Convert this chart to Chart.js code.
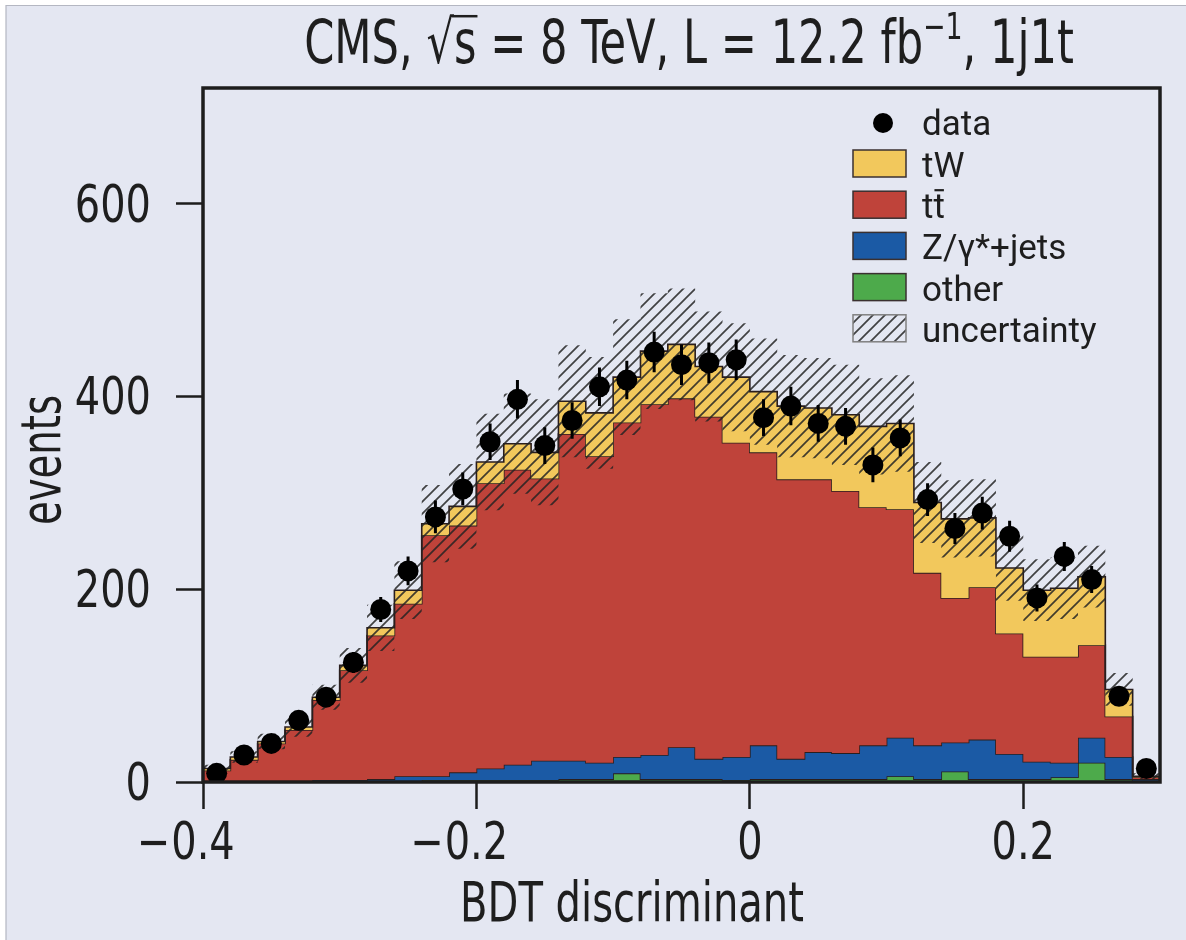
<!DOCTYPE html>
<html>
<head>
<meta charset="utf-8">
<script src="https://cdn.jsdelivr.net/npm/chart.js@4.4.1/dist/chart.umd.min.js"></script>
<style>
  html, body { margin: 0; padding: 0; background: #e4e7f2; }
  #wrap { width: 1186px; height: 940px; }
</style>
</head>
<body>
<div id="wrap"><canvas id="bdt" width="1186" height="940"></canvas></div>
<script>
// BDT discriminant in the 1j1t region: stacked templates, MC uncertainty, data
const binLow = [-0.40, -0.38, -0.36, -0.34, -0.32, -0.30, -0.28, -0.26, -0.24, -0.22,
                -0.20, -0.18, -0.16, -0.14, -0.12, -0.10, -0.08, -0.06, -0.04, -0.02,
                 0.00,  0.02,  0.04,  0.06,  0.08,  0.10,  0.12,  0.14,  0.16,  0.18,
                 0.20,  0.22,  0.24,  0.26,  0.28];
const binHigh = 0.30;

const other = [0, 0, 0, 0, 1, 1, 1, 1, 2, 2, 2, 2, 2, 3, 3, 9, 3, 3, 3, 2,
               3, 3, 3, 3, 3, 6, 3, 11, 3, 3, 3, 5, 20, 3, 1];
const zjets = [0, 0, 0, 1, 1, 1, 2, 5, 4, 8, 12, 16, 20, 19, 17, 17, 25, 33, 21, 24,
               35, 21, 28, 27, 35, 40, 35, 30, 41, 26, 18, 15, 26, 23, 2];
const ttbar = [12, 23, 40, 53, 83, 114, 149, 179, 250, 256, 296, 306, 293, 339, 318, 347, 364, 362, 355, 326,
               304, 290, 283, 272, 247, 237, 179, 150, 158, 125, 109, 110, 96, 42, 2];
const tw = [2, 3, 2, 3, 3, 5, 8, 14, 12, 20, 22, 27, 27, 34, 45, 47, 55, 56, 52, 68,
            63, 76, 74, 79, 84, 89, 73, 82, 72, 68, 69, 71, 71, 28, 1];
const uncertainty = [4, 6, 8, 10, 13, 18, 24, 30, 40, 44, 50, 52, 55, 58, 58, 60, 60, 58, 57, 56,
                     55, 53, 52, 52, 50, 50, 42, 40, 40, 34, 32, 32, 32, 17, 3];
const dataCounts = [9, 28, 40, 64, 88, 124, 179, 219, 275, 304, 353, 397, 349, 375, 410, 417, 446, 433, 435, 438,
                    378, 390, 372, 369, 329, 357, 293, 263, 279, 255, 191, 234, 210, 89, 14];
const dataErrors = [3, 5, 6, 8, 9, 11, 13, 15, 17, 17, 19, 20, 19, 19, 20, 20, 21, 21, 21, 21,
                    19, 20, 19, 19, 18, 19, 17, 16, 17, 16, 14, 15, 14, 9, 4];

const xTicks = [-0.4, -0.2, 0, 0.2];
const yTicks = [0, 200, 400, 600];

const COLORS = {
  bg: '#e4e7f2',
  tw: '#f2c85c',
  ttbar: '#bf433a',
  zjets: '#1b5aa5',
  other: '#4daa4b',
  edge: '#2a1e1e',
  frame: '#1d1d1d',
  text: '#1e1e1e',
  hatch: 'rgba(35,35,35,0.85)'
};
const NARROW = "'Liberation Sans Narrow', 'DejaVu Sans Condensed', 'Roboto', sans-serif";
const REGULAR = "'Roboto', 'Liberation Sans', sans-serif";

// cumulative stack tops, bottom layer first
const layers = [other, zjets, ttbar, tw];
const cumulative = [];
layers.forEach((vals, k) => {
  cumulative.push(vals.map((v, i) => v + (k ? cumulative[k - 1][i] : 0)));
});
const total = cumulative[cumulative.length - 1];

function stepPoints(values, pad) {
  const pts = [];
  if (pad) pts.push({ x: binLow[0], y: 0 });
  values.forEach((v, i) => pts.push({ x: binLow[i], y: v }));
  pts.push({ x: binHigh, y: values[values.length - 1] });
  if (pad) pts.push({ x: binHigh, y: 0 });
  return pts;
}

function hatchPattern(ctx, size, color, width) {
  const c = document.createElement('canvas');
  c.width = size; c.height = size;
  const g = c.getContext('2d');
  g.strokeStyle = color;
  g.lineWidth = width;
  g.beginPath();
  g.moveTo(-1, size + 1); g.lineTo(size + 1, -1);
  g.moveTo(-size / 2 - 1, size / 2 + 1); g.lineTo(size / 2 + 1, -size / 2 - 1);
  g.moveTo(size / 2 - 1, size * 1.5 + 1); g.lineTo(size * 1.5 + 1, size / 2 - 1);
  g.stroke();
  return ctx.createPattern(c, 'repeat');
}

// condensed text: DejaVu condensed squeezed a little further horizontally
function narrowText(c, text, x, y, size, sx, align) {
  c.save();
  c.font = `${size}px ${NARROW}`;
  c.textAlign = align || 'left';
  c.translate(x, y);
  c.scale(sx, 1);
  c.fillText(text, 0, 0);
  c.restore();
}
function narrowWidth(c, text, size, sx) {
  c.save();
  c.font = `${size}px ${NARROW}`;
  const w = c.measureText(text).width * sx;
  c.restore();
  return w;
}

const canvas = document.getElementById('bdt');
const ctx = canvas.getContext('2d');
const hatch = hatchPattern(ctx, 12, COLORS.hatch, 1.7);

function layerDataset(label, k, color) {
  return {
    label: label,
    data: stepPoints(cumulative[k], true),
    stepped: 'before',
    borderColor: COLORS.edge,
    borderWidth: 1.6,
    backgroundColor: color,
    fill: k === 0 ? 'origin' : '-1',
    pointRadius: 0,
    order: 10 - k
  };
}

const centers = binLow.map(lo => lo + 0.01);

const errorBars = {
  id: 'errorBars',
  afterDatasetsDraw(chart) {
    const { ctx: c, scales: { x, y } } = chart;
    c.save();
    c.strokeStyle = '#000';
    c.lineWidth = 3;
    c.beginPath();
    dataCounts.forEach((n, i) => {
      const px = x.getPixelForValue(centers[i]);
      c.moveTo(px, y.getPixelForValue(n - dataErrors[i]));
      c.lineTo(px, y.getPixelForValue(n + dataErrors[i]));
    });
    c.stroke();
    // frame around the plotting area
    const a = chart.chartArea;
    c.strokeStyle = COLORS.frame;
    c.lineWidth = 3.5;
    c.strokeRect(a.left, a.top, a.right - a.left, a.bottom - a.top);
    c.restore();
  }
};

const TICK_SIZE = 51, TICK_SX = 0.87;

const annotations = {
  id: 'annotations',
  afterDraw(chart) {
    const c = chart.ctx;
    const { x: xs, y: ys } = chart.scales;
    c.save();

    // page edge
    c.fillStyle = '#ffffff';
    c.fillRect(0, 0, 1186, 5);
    c.fillRect(0, 0, 6, 940);
    c.strokeStyle = '#b4b7c2';
    c.lineWidth = 1.2;
    c.beginPath();
    c.moveTo(6, 940); c.lineTo(6, 5.5); c.lineTo(1186, 5.5);
    c.stroke();

    c.fillStyle = COLORS.text;
    c.strokeStyle = COLORS.text;
    c.textBaseline = 'alphabetic';

    // tick labels; a leading minus hangs left of the centred number
    xTicks.forEach(v => {
      const px = xs.getPixelForValue(v);
      const num = Math.abs(v) < 1e-9 ? '0' : Math.abs(v).toFixed(1);
      const w = narrowWidth(c, num, TICK_SIZE, TICK_SX);
      narrowText(c, num, px, 859, TICK_SIZE, TICK_SX, 'center');
      if (v < -1e-9) narrowText(c, '\u2212', px - w / 2 - 1, 859, TICK_SIZE, TICK_SX, 'right');
    });
    yTicks.forEach(v => {
      const py = ys.getPixelForValue(v);
      narrowText(c, String(v), 151, py + 18, TICK_SIZE, TICK_SX, 'right');
    });

    // title with radical and superscript
    const tf = 60, tsx = 0.8;
    const parts = [
      { t: 'CMS, ', f: tf, dy: 0 },
      { t: '\u221A', f: tf, dy: 0, root: true },
      { t: 's', f: tf, dy: 0, over: true },
      { t: ' = 8 TeV, L = 12.2 fb', f: tf, dy: 0 },
      { t: '\u22121', f: tf * 0.62, dy: -tf * 0.4 },
      { t: ', 1j1t', f: tf, dy: 0 }
    ];
    let w = 0;
    parts.forEach(p => { p.w = narrowWidth(c, p.t, p.f, tsx); w += p.w; });
    let x0 = 689 - w / 2;
    const base = 63;
    let rootEnd = 0;
    parts.forEach(p => {
      narrowText(c, p.t, x0, base + p.dy, p.f, tsx, 'left');
      if (p.root) rootEnd = x0 + p.w;
      if (p.over) {
        c.lineWidth = 2.5;
        c.beginPath();
        c.moveTo(rootEnd - 2, base - tf * 0.78);
        c.lineTo(x0 + p.w + 1, base - tf * 0.78);
        c.stroke();
      }
      x0 += p.w;
    });

    // axis titles
    narrowText(c, 'BDT discriminant', 632, 921, 55, 0.81, 'center');
    c.save();
    c.translate(60, 460);
    c.rotate(-Math.PI / 2);
    narrowText(c, 'events', 0, 0, 55, 0.78, 'center');
    c.restore();

    // legend
    const lx = 853, bw = 53, bh = 27, tx = 922;
    c.font = `35px ${REGULAR}`;
    c.textAlign = 'left';
    c.beginPath();
    c.arc(883, 123, 10, 0, Math.PI * 2);
    c.fillStyle = '#000';
    c.fill();
    c.fillStyle = COLORS.text;
    c.fillText('data', tx, 135);
    const rows = [
      { label: 'tW', color: COLORS.tw },
      { label: 'tt', color: COLORS.ttbar, bar: true },
      { label: 'Z/\u03B3*+jets', color: COLORS.zjets },
      { label: 'other', color: COLORS.other },
      { label: 'uncertainty', color: hatch, light: true }
    ];
    rows.forEach((r, i) => {
      const top = 150 + i * 41.2;
      c.fillStyle = r.color;
      c.fillRect(lx, top, bw, bh);
      c.lineWidth = 1.5;
      c.strokeStyle = r.light ? '#808080' : '#3a3030';
      c.strokeRect(lx, top, bw, bh);
      c.fillStyle = COLORS.text;
      c.fillText(r.label, tx, top + bh);
      if (r.bar) {
        const tW = c.measureText('t').width;
        c.strokeStyle = COLORS.text;
        c.lineWidth = 2.2;
        c.beginPath();
        c.moveTo(tx + tW + 1, top - 1);
        c.lineTo(tx + 2 * tW - 1, top - 1);
        c.stroke();
      }
    });
    c.restore();
  }
};

new Chart(ctx, {
  type: 'line',
  data: {
    datasets: [
      layerDataset('other', 0, COLORS.other),
      layerDataset('Z/\u03B3*+jets', 1, COLORS.zjets),
      layerDataset('tt\u0304', 2, COLORS.ttbar),
      layerDataset('tW', 3, COLORS.tw),
      {
        label: 'unc-low',
        data: stepPoints(total.map((t, i) => t - uncertainty[i]), false),
        stepped: 'before',
        borderWidth: 0,
        borderColor: 'rgba(0,0,0,0)',
        fill: false,
        pointRadius: 0,
        order: 3
      },
      {
        label: 'uncertainty',
        data: stepPoints(total.map((t, i) => t + uncertainty[i]), false),
        stepped: 'before',
        borderWidth: 0,
        borderColor: 'rgba(0,0,0,0)',
        backgroundColor: hatch,
        fill: '-1',
        pointRadius: 0,
        order: 2
      },
      {
        label: 'data',
        data: dataCounts.map((n, i) => ({ x: centers[i], y: n })),
        showLine: false,
        pointRadius: 10.5,
        pointHoverRadius: 10.5,
        pointBackgroundColor: '#000',
        pointBorderWidth: 0,
        order: 0
      }
    ]
  },
  options: {
    responsive: false,
    animation: false,
    events: [],
    layout: { padding: { top: 88, right: 26, left: 0, bottom: 0 } },
    plugins: {
      legend: { display: false },
      tooltip: { enabled: false },
      filler: { propagate: false }
    },
    scales: {
      x: {
        type: 'linear',
        min: -0.4,
        max: 0.3,
        afterFit: s => { s.height = 158; },
        afterBuildTicks: s => { s.ticks = xTicks.map(v => ({ value: v })); },
        border: { display: false },
        grid: { drawOnChartArea: false, drawTicks: true, tickLength: 27, tickWidth: 2.5, tickColor: COLORS.frame },
        ticks: { display: false }
      },
      y: {
        min: 0,
        max: 720,
        afterFit: s => { s.width = 203; },
        afterBuildTicks: s => { s.ticks = yTicks.map(v => ({ value: v })); },
        border: { display: false },
        grid: { drawOnChartArea: false, drawTicks: true, tickLength: 27, tickWidth: 2.5, tickColor: COLORS.frame },
        ticks: { display: false }
      }
    }
  },
  plugins: [errorBars, annotations]
});
</script>
</body>
</html>
